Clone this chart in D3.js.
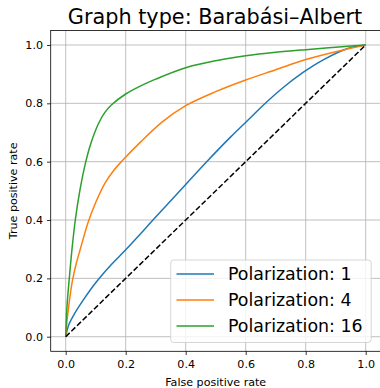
<!DOCTYPE html>
<html><head><meta charset="utf-8">
<script src="https://cdn.jsdelivr.net/npm/d3@7"></script>
<style>body{margin:0;background:#fff}svg{display:block;font-family:"DejaVu Sans",sans-serif}</style>
</head><body><svg id="c" width="380" height="388"></svg>
<script>
const title = "Graph type: Barabási–Albert";
const xLabel = "False positive rate";
const yLabel = "True positive rate";
const ticks = [0, 0.2, 0.4, 0.6, 0.8, 1.0];
const seriesNames = ["Polarization: 1", "Polarization: 4", "Polarization: 16"];
const colors = ["#1f77b4", "#ff7f0e", "#2ca02c"];
const pol1 = [[0,0],[0.01,0.04],[0.03,0.08],[0.06,0.128],[0.1,0.185],[0.15,0.245],[0.2,0.298],[0.3,0.41],[0.4,0.522],[0.47,0.6],[0.55,0.685],[0.62,0.755],[0.66,0.795],[0.72,0.85],[0.79,0.905],[0.86,0.95],[0.94,0.988],[1,1]];
const pol4 = [[0,0],[0.005,0.06],[0.012,0.12],[0.022,0.19],[0.035,0.25],[0.05,0.305],[0.074,0.39],[0.1,0.46],[0.13,0.525],[0.16,0.57],[0.19,0.605],[0.25,0.668],[0.32,0.735],[0.4,0.792],[0.5,0.84],[0.6,0.88],[0.7,0.915],[0.8,0.95],[0.9,0.977],[1,1]];
const pol16 = [[0,0],[0.004,0.1],[0.012,0.2],[0.021,0.3],[0.032,0.4],[0.047,0.5],[0.067,0.6],[0.083,0.66],[0.109,0.73],[0.13,0.768],[0.153,0.795],[0.2,0.832],[0.25,0.86],[0.3,0.883],[0.4,0.922],[0.5,0.946],[0.6,0.963],[0.7,0.975],[0.8,0.984],[0.9,0.992],[1,1]];
const diagonal = [[0,0],[1,1]];
const series = [pol1, pol4, pol16];

const svg = d3.select("#c");
const L = 50.7, R = 380.7, T = 30.4, B = 351.3;
const x = d3.scaleLinear().domain([-0.05, 1.05]).range([L, R]);
const y = d3.scaleLinear().domain([-0.05, 1.05]).range([B, T]);

// grid
const g = svg.append("g");
g.selectAll(".gx").data(ticks).enter().append("line")
  .attr("x1", d => x(d)).attr("x2", d => x(d)).attr("y1", T).attr("y2", B)
  .attr("stroke", "#b0b0b0").attr("stroke-width", 0.8);
g.selectAll(".gy").data(ticks).enter().append("line")
  .attr("y1", d => y(d)).attr("y2", d => y(d)).attr("x1", L).attr("x2", R)
  .attr("stroke", "#b0b0b0").attr("stroke-width", 0.8);

const line = d3.line().x(d => x(d[0])).y(d => y(d[1])).curve(d3.curveCatmullRom.alpha(0.5));
series.forEach((s, i) => {
  svg.append("path").datum(s).attr("d", line).attr("fill", "none")
    .attr("stroke", colors[i]).attr("stroke-width", 1.5).attr("stroke-linejoin", "round");
});
svg.append("path").datum(diagonal).attr("d", d3.line().x(d => x(d[0])).y(d => y(d[1]))).attr("fill", "none")
  .attr("stroke", "#000").attr("stroke-width", 1.5).attr("stroke-dasharray", "5.5,2.4");

// axes
const fmt = d3.format(".1f");
const xa = svg.append("g").attr("transform", `translate(0,${B})`)
  .call(d3.axisBottom(x).tickValues(ticks).tickFormat(fmt).tickSize(3.7).tickPadding(5.5));
const ya = svg.append("g").attr("transform", `translate(${L},0)`)
  .call(d3.axisLeft(y).tickValues(ticks).tickFormat(fmt).tickSize(3.7).tickPadding(4));
[xa, ya].forEach(a => {
  a.select(".domain").remove();
  a.selectAll("text").attr("font-size", 11.1).attr("fill", "#000").attr("font-family", "DejaVu Sans");
  a.selectAll("line").attr("stroke", "#000").attr("stroke-width", 0.8);
});
svg.append("rect").attr("x", L).attr("y", T).attr("width", R - L).attr("height", B - T)
  .attr("fill", "none").attr("stroke", "#000").attr("stroke-width", 0.8);

svg.append("text").attr("x", 215).attr("y", 24).attr("text-anchor", "middle")
  .attr("font-size", 20.8).text(title);
svg.append("text").attr("x", (L + R) / 2).attr("y", 385.5).attr("text-anchor", "middle")
  .attr("font-size", 11.1).text(xLabel);
svg.append("text").attr("transform", `translate(16.5,${(T + B) / 2}) rotate(-90)`).attr("text-anchor", "middle")
  .attr("font-size", 11.1).text(yLabel);

// legend
const lg = svg.append("g");
lg.append("rect").attr("x", 170.7).attr("y", 260).attr("width", 200.5).attr("height", 82.5).attr("rx", 3)
  .attr("fill", "#fff").attr("fill-opacity", 0.8).attr("stroke", "#cccccc").attr("stroke-width", 0.8);
seriesNames.forEach((n, i) => {
  const yy = 274 + i * 26;
  lg.append("line").attr("x1", 176.5).attr("x2", 214).attr("y1", yy).attr("y2", yy)
    .attr("stroke", colors[i]).attr("stroke-width", 1.5);
  lg.append("text").attr("x", 228).attr("y", yy + 6.3).attr("font-size", 17.4).text(n);
});
</script></body></html>
